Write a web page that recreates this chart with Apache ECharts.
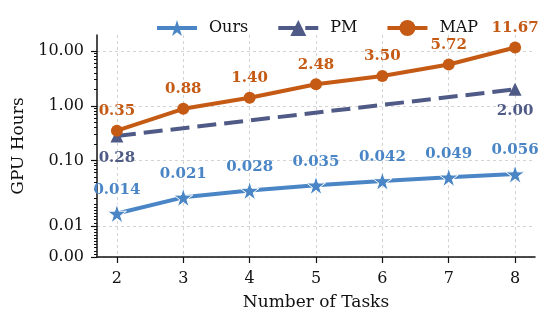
<!DOCTYPE html>
<html><head><meta charset="utf-8">
<script src="https://cdn.jsdelivr.net/npm/echarts@6/dist/echarts.min.js"></script>
<style>html,body{margin:0;padding:0;background:#fff}#c{width:559px;height:323px}</style>
</head><body><div id="c"></div>
<script>
const tasks = [2, 3, 4, 5, 6, 7, 8];
const ours = [0.014, 0.021, 0.028, 0.035, 0.042, 0.049, 0.056];
const pmTasks = [2, 8];
const pm = [0.28, 2.00];
const map = [0.35, 0.88, 1.40, 2.48, 3.50, 5.72, 11.67];
const yTicks = [0, 0.01, 0.1, 1, 10];

// symmetric-log style scale (linear near zero)
const L = 0.018, K = 1.026;
function T(v){ return v >= L ? Math.log10(v) : Math.log10(L) - (L - v) / L * K; }
function Tinv(t){ return t >= Math.log10(L) ? Math.pow(10, t) : L - (Math.log10(L) - t) / K * L; }
const yMin = T(0), yMax = 1.297;
const minorVals = [];
for (let i = 1; i <= 17; i++) if (i !== 10) minorVals.push(i / 1000);
[0.01, 0.1, 1].forEach(d => { for (let m = 2; m <= 9; m++) { const v = m * d; if (v >= L) minorVals.push(v); } });

const FONT = 'DejaVu Serif';
const C_OURS = '#4a86c6', C_PM = '#4f5b86', C_MAP = '#c55a14';
const star = 'path://M50 0 L61.2 34.5 L97.6 34.5 L68.2 55.9 L79.4 90.5 L50 69.1 L20.6 90.5 L31.8 55.9 L2.4 34.5 L38.8 34.5 Z';

function pts(xs, arr){ return arr.map((v, i) => [xs[i], T(v), v]); }
const fmtVal = (dec) => p => p.data[2].toFixed(dec);

const chart = echarts.init(document.getElementById('c'), null, {renderer: 'canvas'});
chart.setOption({
  animation: false,
  textStyle: {fontFamily: FONT},
  grid: {left: 97, right: 24, top: 35, bottom: 66},
  legend: {
    top: 15, left: 150, itemWidth: 40, itemHeight: 20, itemGap: 28,
    lineStyle: {width: 4},
    textStyle: {fontFamily: FONT, fontSize: 16, color: '#111', padding: [0, 0, 0, 7]},
    data: [{name: 'Ours', itemStyle: {borderWidth: 0}}, 'PM', 'MAP']
  },
  xAxis: {
    type: 'value', min: 1.7, max: 8.3,
    name: 'Number of Tasks', nameLocation: 'middle', nameGap: 37,
    nameTextStyle: {fontFamily: FONT, fontSize: 17, color: '#111'},
    axisLine: {onZero: false, lineStyle: {color: '#111', width: 1.5}},
    axisTick: {customValues: tasks, length: 6, lineStyle: {color: '#111', width: 1.2}},
    axisLabel: {customValues: tasks, fontFamily: FONT, fontSize: 16, color: '#111', margin: 14},
    splitLine: {show: true, lineStyle: {type: [3, 3], color: '#d3d3d3', width: 1}}
  },
  yAxis: [{
    type: 'value', min: yMin, max: yMax, position: 'left',
    name: 'GPU Hours', nameLocation: 'middle', nameGap: 68,
    nameTextStyle: {fontFamily: FONT, fontSize: 17, color: '#111'},
    axisLine: {show: true, onZero: false, lineStyle: {color: '#111', width: 1.5}},
    axisTick: {show: true, customValues: yTicks.map(T), length: 6, lineStyle: {color: '#111', width: 1.2}},
    axisLabel: {customValues: yTicks.map(T), fontFamily: FONT, fontSize: 16, color: '#111', margin: 13,
      formatter: v => { let x = Tinv(v); if (Math.abs(x) < 1e-6) x = 0; return x.toFixed(2); }},
    splitLine: {show: true, lineStyle: {type: [3, 3], color: '#d3d3d3', width: 1}}
  }, {
    type: 'value', min: yMin, max: yMax, position: 'left', offset: 0,
    axisLine: {show: false},
    axisTick: {show: true, customValues: minorVals.map(T), length: 3, lineStyle: {color: '#111', width: 1}},
    axisLabel: {show: false},
    splitLine: {show: false}
  }],
  series: [{
    name: 'Ours', type: 'line', data: pts(tasks, ours),
    symbol: star, symbolSize: 19,
    lineStyle: {color: C_OURS, width: 4},
    itemStyle: {color: C_OURS, borderColor: '#fff', borderWidth: 1},
    label: {show: true, position: 'top', distance: 6, color: C_OURS, fontFamily: FONT, fontWeight: 'bold', fontSize: 15, formatter: fmtVal(3)},
    z: 3
  }, {
    name: 'PM', type: 'line', data: pts(pmTasks, pm),
    symbol: 'triangle', symbolSize: 13,
    lineStyle: {color: C_PM, width: 4, type: [19, 8]},
    itemStyle: {color: C_PM},
    label: {show: true, position: 'bottom', distance: 8, color: C_PM, fontFamily: FONT, fontWeight: 'bold', fontSize: 15, formatter: fmtVal(2)},
    z: 4
  }, {
    name: 'MAP', type: 'line', data: pts(tasks, map),
    symbol: 'circle', symbolSize: 12,
    lineStyle: {color: C_MAP, width: 4},
    itemStyle: {color: C_MAP},
    label: {show: true, position: 'top', distance: 6, color: C_MAP, fontFamily: FONT, fontWeight: 'bold', fontSize: 15, formatter: fmtVal(2)},
    z: 5
  }]
});
</script></body></html>
